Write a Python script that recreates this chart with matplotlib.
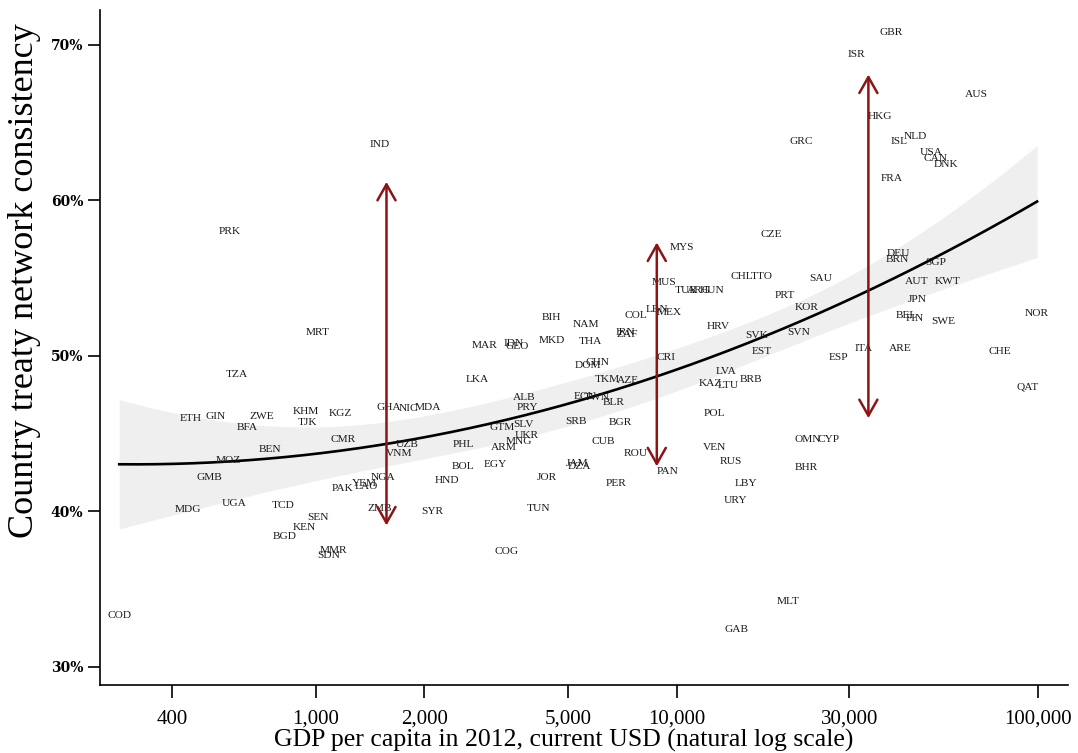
import numpy as np
import matplotlib
matplotlib.use("Agg")
import matplotlib.pyplot as plt
from matplotlib.ticker import FixedLocator, NullLocator

# ---------------- data ----------------
countries = ["PRK", "MRT", "TZA", "ETH", "GIN", "ZWE", "BFA", "KHM", "TJK", "KGZ",
             "GHA", "NIC", "MDA", "CMR", "BEN", "MOZ", "GMB", "UGA", "MDG", "TCD",
             "SEN", "KEN", "BGD", "MMR", "SDN", "PAK", "LAO", "YEM", "NGA", "ZMB",
             "UZB", "VNM", "COD", "IND", "SYR",
             "BIH", "NAM", "COL", "LBN", "MEX", "MAR", "IDN", "GEO", "MKD", "THA",
             "IRN", "ZAF", "CHN", "DOM", "CRI", "LKA", "TKM", "AZE", "ALB", "PRY",
             "ECU", "TWN", "BLR", "SLV", "GTM", "UKR", "MNG", "ARM", "SRB", "BGR",
             "CUB", "PHL", "ROU", "PAN", "BOL", "EGY", "JAM", "DZA", "HND", "JOR",
             "PER", "TUN", "COG",
             "CZE", "MYS", "MUS", "TUR", "ARG", "HUN", "CHL", "TTO", "SAU", "PRT",
             "KOR", "HRV", "SVK", "SVN", "EST", "ESP", "LVA", "KAZ", "LTU", "BRB",
             "POL", "OMN", "CYP", "VEN", "RUS", "BHR", "LBY", "URY", "MLT", "GAB",
             "GBR", "ISR", "AUS", "HKG", "GRC", "ISL", "NLD", "USA", "CAN", "DNK",
             "FRA", "DEU", "BRN", "SGP", "AUT", "KWT", "JPN", "BEL", "FIN", "SWE",
             "NOR", "ITA", "ARE", "CHE", "QAT"]

gdp_per_capita = [579, 1013, 605, 452, 529, 709, 645, 938, 950, 1172,
                  1591, 1807, 2052, 1195, 746, 575, 509, 594, 443, 811,
                  1013, 932, 821, 1121, 1086, 1187, 1380, 1360, 1541, 1502,
                  1795, 1706, 286, 1502, 2105,
                  4486, 5607, 7702, 8806, 9504, 2930, 3524, 3614, 4515, 5752,
                  7184, 7276, 6012, 5679, 9324, 2803, 6408, 7322, 3779, 3852,
                  5572, 6012, 6699, 3755, 3286, 3852, 3660, 3328, 5260, 6958,
                  6246, 2564, 7702, 9443, 2564, 3143, 5300, 5380, 2315, 4374,
                  6784, 4130, 3371,
                  18300, 10320, 9208, 10590, 11500, 12500, 15120, 17170, 24990, 19880,
                  22870, 12980, 16630, 21730, 17170, 28030, 13660, 12420, 13920, 16010,
                  12740, 23010, 26300, 12740, 14100, 22870, 15510, 14550, 20390, 14640,
                  39260, 31430, 67420, 36610, 22150, 41300, 45730, 50630, 51940, 55700,
                  39260, 41040, 40900, 51940, 46030, 56040, 46320, 43190, 45450, 54640,
                  99360, 32860, 41570, 78530, 93250]

consistency = [58.0, 51.5, 48.8, 46.0, 46.1, 46.1, 45.4, 46.4, 45.7, 46.3,
               46.7, 46.6, 46.7, 44.6, 44.0, 43.3, 42.2, 40.5, 40.1, 40.4,
               39.6, 39.0, 38.4, 37.5, 37.2, 41.5, 41.6, 41.8, 42.2, 40.2,
               44.3, 43.7, 33.3, 63.6, 40.0,
               52.5, 52.0, 52.6, 53.0, 52.8, 50.7, 50.8, 50.6, 51.0, 50.9,
               51.5, 51.4, 49.6, 49.4, 49.9, 48.5, 48.5, 48.4, 47.3, 46.7,
               47.4, 47.3, 47.0, 45.6, 45.4, 44.9, 44.5, 44.1, 45.8, 45.7,
               44.5, 44.3, 43.7, 42.6, 42.9, 43.0, 43.1, 42.9, 42.0, 42.2,
               41.8, 40.2, 37.4,
               57.8, 57.0, 54.7, 54.2, 54.2, 54.2, 55.1, 55.1, 55.0, 53.9,
               53.1, 51.9, 51.3, 51.5, 50.3, 49.9, 49.0, 48.2, 48.1, 48.5,
               46.3, 44.6, 44.6, 44.1, 43.2, 42.8, 41.8, 40.7, 34.2, 32.4,
               70.8, 69.4, 66.8, 65.4, 63.8, 63.8, 64.1, 63.1, 62.7, 62.3,
               61.4, 56.6, 56.2, 56.0, 54.8, 54.8, 53.6, 52.6, 52.4, 52.2,
               52.7, 50.5, 50.5, 50.3, 48.0]

# vertical double arrows: (gdp, low %, high %)
arrow_gdp = [1571, 8800, 33900]
arrow_low = [39.1, 42.9, 46.0]
arrow_high = [61.2, 57.3, 68.1]

x_ticks = [400, 1000, 2000, 5000, 10000, 30000, 100000]
x_ticklabels = ["400", "1,000", "2,000", "5,000", "10,000", "30,000", "100,000"]
y_ticks = [30, 40, 50, 60, 70]
y_ticklabels = ["30%", "40%", "50%", "60%", "70%"]

# ---------------- quadratic fit with 95% CI (in ln gdp) ----------------
g = np.array(gdp_per_capita, dtype=float)
c = np.array(consistency, dtype=float)
lx = np.log(g)
X = np.column_stack([np.ones_like(lx), lx, lx ** 2])
beta, *_ = np.linalg.lstsq(X, c, rcond=None)
resid = c - X @ beta
n = len(c)
s2 = resid @ resid / (n - 3)
XtX_inv = np.linalg.inv(X.T @ X)
grid = np.linspace(lx.min(), lx.max(), 200)
Xg = np.column_stack([np.ones_like(grid), grid, grid ** 2])
fit = Xg @ beta
se = np.sqrt(s2 * np.einsum("ij,jk,ik->i", Xg, XtX_inv, Xg))
tval = 1.98
gx = np.exp(grid)

# ---------------- figure ----------------
fig = plt.figure(figsize=(10.78, 7.53), dpi=100)
ax = fig.add_axes([100 / 1078, 1 - 685 / 753, (1068 - 100) / 1078, (685 - 10) / 753])
ax.set_xscale("log")
ax.set_xlim(253, 121000)
ax.set_ylim(28.84, 72.25)

ax.fill_between(gx, fit - tval * se, fit + tval * se, color="#efefef", lw=0, zorder=1)
ax.plot(gx, fit, color="black", lw=1.9, zorder=2)

for code, xv, yv in zip(countries, gdp_per_capita, consistency):
    ax.text(xv, yv, code, ha="center", va="center", fontsize=8.2,
            family="Liberation Serif", color="#1a1a1a", zorder=3)

dark_red = "#8b1414"
for xa, lo, hi in zip(arrow_gdp, arrow_low, arrow_high):
    ax.annotate("", xy=(xa, hi), xytext=(xa, lo),
                arrowprops=dict(arrowstyle="<->,head_length=1.15,head_width=0.65",
                                mutation_scale=10, color=dark_red, lw=1.8,
                                shrinkA=0, shrinkB=0), zorder=4)

for side in ["top", "right"]:
    ax.spines[side].set_visible(False)
for side in ["left", "bottom"]:
    ax.spines[side].set_linewidth(1.2)

ax.xaxis.set_major_locator(FixedLocator(x_ticks))
ax.xaxis.set_minor_locator(NullLocator())
ax.set_xticklabels(x_ticklabels, family="Liberation Serif", fontsize=15)
ax.set_yticks(y_ticks)
ax.set_yticklabels(y_ticklabels, family="DejaVu Serif", fontweight="bold", fontsize=10)
ax.tick_params(axis="x", length=9, width=1.2, pad=9)
ax.tick_params(axis="y", length=9, width=1.2, pad=3)

ax.set_xlabel("GDP per capita in 2012, current USD (natural log scale)",
              family="Liberation Serif", fontsize=18.5)
ax.xaxis.set_label_coords((564 - 100) / 968, -(729 - 685) / 675)
ax.set_ylabel("Country treaty network consistency", family="Liberation Serif", fontsize=26)
ax.yaxis.set_label_coords(-(100 - 41) / 968, (685 - 281) / 675)

fig.savefig("out.png", dpi=100)
